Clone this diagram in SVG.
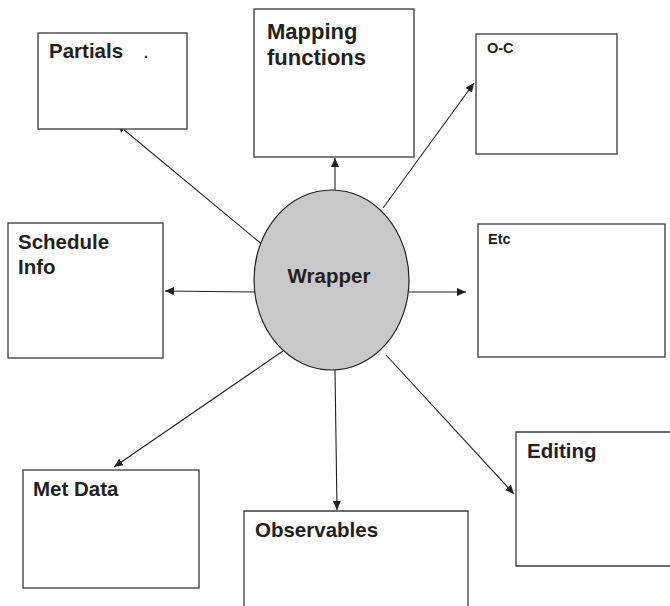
<svg xmlns="http://www.w3.org/2000/svg" width="670" height="606" viewBox="0 0 670 606">
<style>
.box{fill:#fff;stroke:#3a3a3a;stroke-width:1.3}
.lbl{font-family:"Liberation Sans",Arial,sans-serif;font-weight:bold;font-size:20.5px;fill:#231f20}
.sm{font-size:14.5px}
.big{font-size:22px}
.conn{stroke:#231f20;stroke-width:1.1;fill:none;marker-end:url(#ah)}
</style>
<defs>
<marker id="ah" markerUnits="userSpaceOnUse" markerWidth="10" markerHeight="8" refX="9" refY="4" orient="auto">
<path d="M0,0 L9,4 L0,8 Z" fill="#231f20"/>
</marker>
</defs>
<rect width="670" height="606" fill="#fff"/>
<g id="connectors">
<line class="conn" x1="264" y1="246" x2="117" y2="124"/>
<line class="conn" x1="335" y1="190" x2="335" y2="158"/>
<line class="conn" x1="383" y1="208" x2="474" y2="83"/>
<line class="conn" x1="254" y1="292" x2="165" y2="291"/>
<line class="conn" x1="409" y1="292" x2="466" y2="292"/>
<line class="conn" x1="283" y1="351" x2="114" y2="467"/>
<line class="conn" x1="335" y1="370" x2="337" y2="510"/>
<line class="conn" x1="386" y1="355" x2="514" y2="494"/>
</g>
<g id="partials">
<rect class="box" x="38" y="33" width="149" height="96"/>
<text class="lbl" x="49" y="58">Partials</text>
<text class="lbl" x="144" y="58" style="font-size:14px">.</text>
</g>
<g id="mapping">
<rect class="box" x="254" y="9" width="160" height="148"/>
<text class="lbl big" x="267" y="39">Mapping</text>
<text class="lbl big" x="267" y="65">functions</text>
</g>
<g id="oc">
<rect class="box" x="476" y="34" width="141" height="120"/>
<text class="lbl sm" x="487" y="53">O-C</text>
</g>
<g id="schedule">
<rect class="box" x="8" y="223" width="155" height="135"/>
<text class="lbl" x="18" y="249">Schedule</text>
<text class="lbl" x="18" y="274">Info</text>
</g>
<g id="etc">
<rect class="box" x="478" y="224" width="187" height="133"/>
<text class="lbl sm" x="488" y="244">Etc</text>
</g>
<g id="wrapper">
<ellipse cx="331.5" cy="280" rx="77.5" ry="90" fill="#c8c8ca" stroke="#231f20" stroke-width="1.2"/>
<text class="lbl" x="329" y="283" text-anchor="middle">Wrapper</text>
</g>
<g id="metdata">
<rect class="box" x="23" y="470" width="176" height="118"/>
<text class="lbl" x="33" y="496">Met Data</text>
</g>
<g id="observables">
<path class="box" d="M244,607 L244,511 L468,511 L468,607"/>
<text class="lbl" x="255" y="537">Observables</text>
</g>
<g id="editing">
<path class="box" d="M672,432 L516,432 L516,566 L672,566"/>
<text class="lbl" x="527" y="458">Editing</text>
</g>
</svg>
